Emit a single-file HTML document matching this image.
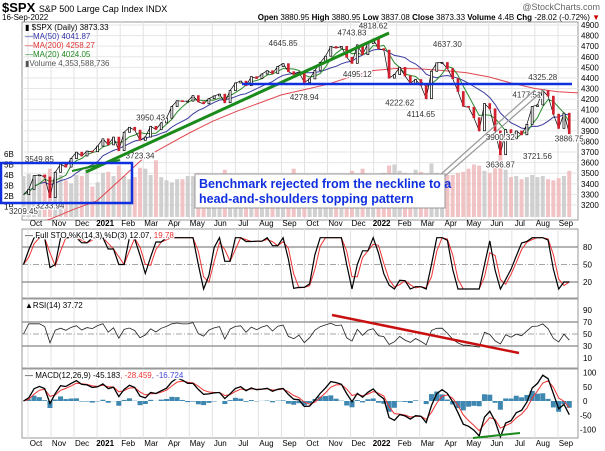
<!DOCTYPE html>
<html><head><meta charset="utf-8"><style>
body{margin:0;background:#fff;}
svg{display:block;font-family:"Liberation Sans",sans-serif;}
</style></head><body>
<svg id="c" width="605" height="451" viewBox="0 0 605 451">
<text x="2" y="12" font-size="13" font-weight="bold">$SPX <tspan font-size="9" font-weight="normal">S&amp;P 500 Large Cap Index INDX</tspan></text>
<text x="600" y="10" font-size="9" fill="#666" text-anchor="end">@StockCharts.com</text>
<text x="2" y="20" font-size="8">16-Sep-2022</text>
<text x="600" y="20" font-size="8" text-anchor="end"><tspan font-weight="bold">Open</tspan> 3880.95 <tspan font-weight="bold">High</tspan> 3880.95 <tspan font-weight="bold">Low</tspan> 3837.08 <tspan font-weight="bold">Close</tspan> 3873.33 <tspan font-weight="bold">Volume</tspan> 4.4B <tspan font-weight="bold">Chg</tspan> -28.02 (-0.72%) <tspan fill="#c00">▼</tspan></text>
<defs><clipPath id="pclip"><rect x="22" y="22" width="556" height="198"/></clipPath></defs>
<g id="grid"></g>
<g id="marks"></g>
<g id="over"></g>
</svg>
<script>
const closes=[3298,3348,3477,3484,3465,3270,3509,3585,3558,3638,3699,3663,3709,3703,3756,
3825,3768,3841,3714,3887,3934,3907,3811,3842,3943,3913,3975,4020,4129,4185,4180,4181,4233,4174,4156,4204,4230,4247,4166,4281,4352,4370,4327,4412,4395,4437,4468,4442,4509,4535,4459,4433,4455,4357,4391,4471,4545,4605,4697,4682,4698,4595,4538,4712,4620,4726,4766,
4677,4663,4398,4432,4500,4419,4349,4385,4329,4204,4463,4543,4546,4488,4393,4272,4132,4123,4024,3901,4158,4109,3901,3675,3912,3825,3899,3863,3962,4130,4145,4280,4228,4058,3924,4067,3873];
const volumes=[3.9,4.1,3.6,3.8,4.0,4.6,4.3,4.0,3.5,3.2,4.0,3.9,4.8,2.9,3.3,
4.2,4.3,3.9,4.9,3.9,3.6,3.8,4.7,4.6,4.0,5.4,3.8,3.5,3.3,3.6,3.6,3.9,3.9,4.2,3.7,3.3,3.4,3.3,4.5,3.6,3.2,3.1,3.4,3.3,3.4,3.1,2.9,3.2,2.8,2.9,3.1,4.6,3.4,3.6,3.3,3.2,3.3,3.6,3.9,3.5,3.5,3.9,4.4,3.7,4.6,3.2,2.9,
4.1,4.2,4.9,5.0,4.4,4.2,4.1,4.5,4.3,4.1,5.1,4.2,3.9,4.0,4.0,4.2,4.3,4.6,5.0,4.9,4.4,4.2,4.7,6.0,4.5,3.8,3.9,3.6,3.8,4.0,3.8,3.9,3.6,3.5,3.7,3.9,4.4];
const ma200Monthly=[3000,3070,3160,3240,3440,3640,3760,3880,3990,4080,4160,4240,4290,4340,4410,4470,4490,4485,4470,4450,4410,4350,4300,4270,4258];
const monthLabels=["Oct","Nov","Dec","2021","Feb","Mar","Apr","May","Jun","Jul","Aug","Sep","Oct","Nov","Dec","2022","Feb","Mar","Apr","May","Jun","Jul","Aug","Sep"];
const priceTicks=[3200,3300,3400,3500,3600,3700,3800,3900,4000,4100,4200,4300,4400,4500,4600,4700,4800,4900];
const volTicks=[1,2,3,4,5,6];
const stoTicks=[20,50,80];
const rsiTicks=[10,30,50,70,90];
const macdTicks=[-100,-50,0,50,100];
const peakLabels=["3549.85","3209.45","3233.94","3950.43","3723.34","4645.85","4278.94","4743.83","4818.62","4495.12","4222.62","4114.65","4637.30","4177.51","3900.32","3721.56","3636.87","4325.28","3886.75"];
const peakValues=[3549.85,3209.45,3233.94,3950.43,3723.34,4645.85,4278.94,4743.83,4818.62,4495.12,4222.62,4114.65,4637.30,4177.51,3900.32,3721.56,3636.87,4325.28,3886.75];
const peakWeeks=[3,0,5,24,22,49,53,62,66,63,71,75,80,95,90,97,90,98,103];
const peakDy=[-6,10,7,-5,9,-6,9,-6,-5,9,9,9,-6,-4,9,9,9,-6,9];

const NS="http://www.w3.org/2000/svg";
const L=22,R=578,PX=0.757;
const xw=i=>28+(7*i-6)*PX;
const xm=m=>28+m*23.04;
const yP=v=>25+(4900-v)*(180/1700);
const yV=v=>217-v*10.5;
const yS=v=>282-(v-20)*(35/60);
const yR=v=>346-(v-30)*(24/40);
const yM=v=>401-v*0.285;
function el(tag,at,parent,txt){const e=document.createElementNS(NS,tag);for(const k in at)e.setAttribute(k,at[k]);if(txt!==undefined)e.textContent=txt;(parent||document.getElementById('marks')).appendChild(e);return e;}
const G=document.getElementById('grid'),M=document.getElementById('marks'),O=document.getElementById('over');
const panels=[[22,220],[229,298],[299,368],[369,438]];
panels.forEach(p=>{let r=el('rect',{x:L,y:p[0],width:R-L,height:p[1]-p[0],fill:'#fff',stroke:'#999','stroke-width':1},G);

});
monthLabels.forEach((m,k)=>{const x=xm(k);
panels.forEach(p=>{let g=el('line',{x1:x,x2:x,y1:p[0],y2:p[1],stroke:'#e2e2e2'},G);

});
[226,446].forEach(y=>{let t=el('text',{x:x+8,y:y,'font-size':8,'text-anchor':'middle','font-weight':(m.length==4?'bold':'normal')},G,m);

});});
priceTicks.forEach(v=>{let g=el('line',{x1:L,x2:R,y1:yP(v),y2:yP(v),stroke:'#e6e6e6'},G);


let t=el('text',{x:581,y:yP(v)+3,'font-size':8},G,v);

});
volTicks.forEach(v=>{let t=el('text',{x:4,y:yV(v)+3,'font-size':8},G,v+'B');

});
volumes.forEach((v,i)=>{const up=i==0||closes[i]>=closes[i-1];
let b=el('rect',{x:xw(i)-2,y:yV(v),width:4,height:217-yV(v),fill:up?'#c8c8c8':'#efb8bb',opacity:0.85});

});
function path(arr,xf,yf,st,name){let d='';arr.forEach((v,i)=>{if(v==null)return;d+=(d?'L':'M')+xf(i).toFixed(1)+','+yf(v).toFixed(1);});const p=el('path',Object.assign({d:d,fill:'none'},st));

return p;}
function sma(a,n){return a.map((v,i)=>{const s=a.slice(Math.max(0,i-n+1),i+1);return s.reduce((x,y)=>x+y,0)/s.length;});}
function ema(a,n){const k=2/(n+1);let e=a[0];return a.map(v=>e=v*k+e*(1-k));}
path(ma200Monthly,xm,yP,{stroke:'#e0474f','stroke-width':1,'clip-path':'url(#pclip)'},'ma200-line');
path(sma(closes,10),xw,yP,{stroke:'#3b3ba0','stroke-width':1},'ma50-line');
path(sma(closes,4),xw,yP,{stroke:'#2a8a2a','stroke-width':1},'ma20-line');
path(closes,xw,yP,{stroke:'#000','stroke-width':0.7},'price-line');
closes.forEach((c,i)=>{if(i==0)return;const o=closes[i-1];const up=c>=o;
let b=el('rect',{x:xw(i)-1,y:yP(Math.max(o,c)),width:2,height:Math.max(1,Math.abs(yP(o)-yP(c))),fill:up?'#fff':'#d0202e',stroke:up?'#000':'#d0202e','stroke-width':0.7});

});
peakLabels.forEach((s,k)=>{const x=xw(peakWeeks[k]),y=yP(peakValues[k])+peakDy[k];
let t=el('text',{x:x,y:y,'font-size':8,'text-anchor':'middle',fill:'#333',stroke:'#fff','stroke-width':2.5,'paint-order':'stroke'},O,s);

});
const n=5;const raw=closes.map((c,i)=>{const s=closes.slice(Math.max(0,i-n+1),i+1);const lo=Math.min(...s),hi=Math.max(...s);return hi==lo?50:(c-lo)/(hi-lo)*100;});
const k2=sma(raw,2).map(v=>Math.max(8,Math.min(96,v))),d2=sma(k2,2);
[80,50,20].forEach(v=>{let g=el('line',{x1:L,x2:R,y1:yS(v),y2:yS(v),stroke:'#888','stroke-width':v==50?0.8:1.3,'stroke-dasharray':v==50?'6,2,1,2':''});

});
stoTicks.forEach(v=>{let t=el('text',{x:583,y:yS(v)+3,'font-size':8},G,v);

});
path(d2,xw,yS,{stroke:'#e33','stroke-width':1},'sto-d-line');
path(k2,xw,yS,{stroke:'#000','stroke-width':1.2},'sto-k-line');
let ag=0,al=0;const rsi=closes.map((c,i)=>{if(i==0)return 50;const ch=c-closes[i-1];ag=(ag*2+Math.max(ch,0))/3;al=(al*2+Math.max(-ch,0))/3;const v=al==0?90:100-100/(1+ag/al);return 30+(v-30)*0.45+10;});
[70,50,30].forEach(v=>{let g=el('line',{x1:L,x2:R,y1:yR(v),y2:yR(v),stroke:'#888','stroke-width':v==50?0.8:1.3,'stroke-dasharray':v==50?'6,2,1,2':''});

});
rsiTicks.forEach(v=>{let t=el('text',{x:583,y:yR(v)+3,'font-size':8},G,v);

});
path(rsi,xw,yR,{stroke:'#222','stroke-width':0.8},'rsi-line');
const e1=ema(closes,3),e2=ema(closes,7);const macd=e1.map((v,i)=>(v-e2[i])*0.9);const sig=ema(macd,3);
macd.forEach((v,i)=>{const h=v-sig[i];let b=el('rect',{x:xw(i)-2.5,y:Math.min(yM(0),yM(h)),width:5,height:Math.abs(yM(h)-yM(0)),fill:'#3d87b0'});

});
macdTicks.forEach(v=>{let t=el('text',{x:v<0?580:583,y:yM(v)+3,'font-size':8},G,v);

});
path(sig,xw,yM,{stroke:'#e33','stroke-width':1},'macd-signal-line');
path(macd,xw,yM,{stroke:'#000','stroke-width':1.3},'macd-line');
</script>
<svg width="605" height="451" style="position:absolute;left:0;top:0;font-family:'Liberation Sans',sans-serif">
<g font-size="8">
<text x="25" y="30">▮ $SPX (Daily) 3873.33</text>
<text x="25" y="39" fill="#33a">—MA(50) 4041.87</text>
<text x="25" y="48" fill="#d33">—MA(200) 4258.27</text>
<text x="25" y="57" fill="#282">—MA(20) 4024.05</text>
<text x="25" y="66" fill="#555">▮Volume 4,353,588,736</text>
<text x="25" y="238" stroke="#fff" stroke-width="2.5" paint-order="stroke">— Full STO %K(14,3) %D(3) 12.07, <tspan fill="#e33">19.78</tspan></text>
<text x="25" y="308">▲RSI(14) 37.72</text>
<text x="25" y="378" stroke="#fff" stroke-width="2.5" paint-order="stroke">— MACD(12,26,9) -45.183<tspan fill="#e33">, -28.459</tspan><tspan fill="#44d">, -16.724</tspan></text>
</g>
<line x1="86" y1="172" x2="389" y2="33" stroke="#1a8a1a" stroke-width="3"/>
<line x1="72" y1="171" x2="120" y2="160" stroke="#1a8a1a" stroke-width="2"/>
<line x1="242" y1="84" x2="572" y2="84" stroke="#1030e0" stroke-width="2.5"/>
<rect x="1" y="163" width="131" height="40" fill="none" stroke="#1030e0" stroke-width="2.5"/>
<line x1="440" y1="175" x2="535" y2="90" stroke="#999" stroke-width="1.2"/>
<line x1="445" y1="176" x2="545" y2="89" stroke="#999" stroke-width="1.2"/>
<rect x="195" y="174" width="250" height="34" fill="#fff" stroke="#999"/>
<text x="199" y="188" font-size="12.5" font-weight="bold" fill="#1030e0">Benchmark rejected from the neckline to a</text>
<text x="199" y="203" font-size="12.5" font-weight="bold" fill="#1030e0">head-and-shoulders topping pattern</text>
<line x1="332" y1="315" x2="519" y2="353" stroke="#c81010" stroke-width="2.5"/>
<line x1="473" y1="438" x2="520" y2="433" stroke="#1a8a1a" stroke-width="2"/>
</svg>
</body></html>
